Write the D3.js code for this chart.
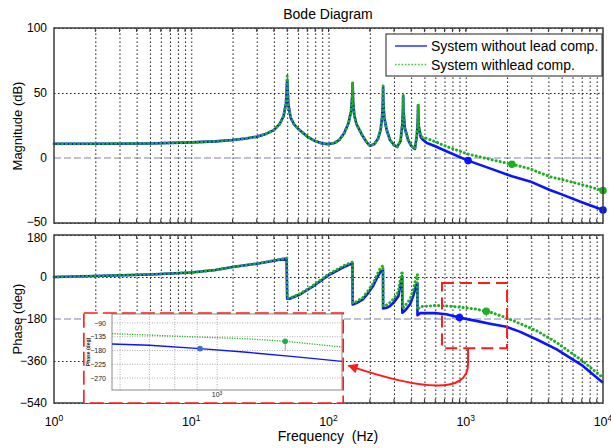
<!DOCTYPE html>
<html>
<head>
<meta charset="utf-8">
<script src="https://cdn.jsdelivr.net/npm/d3@7"></script>
<style>
  body { margin: 0; background: #fff; }
  svg { display: block; font-family: "Liberation Sans", Arial, sans-serif; }
</style>
</head>
<body>
<div id="chart"></div>
<script>
// Magnitude (dB)
const magFreq  = [1, 2, 5, 10, 15, 20, 25, 30, 35, 40, 44, 47, 49, 50, 51, 53, 56, 60, 70, 80, 90, 100, 110, 120, 130, 140, 146, 149, 150, 151, 154, 160, 175, 190, 200, 215, 230, 240, 246, 249, 250, 251, 255, 265, 280, 300, 316, 335, 345, 349, 350, 352, 360, 380, 400, 426, 440, 447, 450, 454, 470, 490, 522, 600, 730, 1040, 1500, 2170, 2940, 4100, 5000, 7000, 10000];
const magBlue  = [11, 11, 11.2, 12, 12.8, 13.8, 15, 16.4, 18.5, 21.5, 26, 32, 42, 60, 41, 31, 26, 22.5, 16.5, 13, 11.2, 10.7, 11.5, 14, 19, 27, 36, 48, 57.5, 44, 33, 26, 18, 12, 9.5, 10.5, 15, 22, 32, 44, 54.5, 42, 31, 22, 14, 10, 8.5, 13, 26, 38, 47.5, 36, 23, 14, 9.5, 7, 17, 28, 40.5, 25, 16, 13.8, 11.5, 9, 5, -2, -8, -14, -18, -24.6, -28, -34, -40];
const magGreen = [11, 11, 11.2, 12, 12.8, 13.8, 15, 16.4, 18.5, 21.5, 26, 32, 42, 63, 41, 31, 26, 22.5, 16.5, 13, 11.2, 10.7, 11.5, 14, 19, 27, 36, 48, 58.5, 44, 33, 26, 18, 12, 9.5, 10.5, 15, 22, 32, 44, 55.5, 42, 31, 22, 14, 10, 8.5, 13, 26, 38, 48.5, 36, 23, 14, 9.5, 7, 17, 28, 41.5, 25, 17, 15.5, 15, 12.5, 8.7, 3, -1, -4.8, -8.3, -14.4, -16.5, -20.5, -25];

// Phase (deg)
const phFreq   = [1, 2, 5, 10, 15, 20, 30, 40, 49.5, 50, 52, 62, 75, 87, 100, 108, 125, 143, 149.5, 150, 160, 178, 195, 211, 225, 238, 249.5, 250, 265, 280, 300, 323, 335, 344.5, 345, 355, 375, 393, 415, 438, 444.5, 445, 465, 610, 720, 900, 1190, 1500, 1980, 2470, 3300, 4600, 7100, 10000];
const phBlue   = [0, 4, 11, 19, 30, 43, 57, 70, 79, -93, -93, -75, -45, -18, 8, 18, 38, 54, 58, -118, -112, -96, -68, -39, -5, 20, 29, -135, -132, -125, -108, -82, -30, 3, -153, -148, -132, -117, -80, -32, -28, -164, -155, -155, -160, -174, -188, -200, -213, -234, -268, -310, -380, -453];
const phGreen  = [0, 4, 11, 19, 30, 43, 57, 71, 81, -90, -91, -72, -42, -14, 12, 23, 44, 60, 64, -112, -106, -88, -58, -28, 8, 36, 49, -125, -120, -110, -92, -62, -5, 25, -135, -128, -110, -95, -55, 5, 11, -140, -127, -122, -124, -129, -138, -150, -175, -199, -231, -281, -360, -432];

// marked points
const magDotsBlue  = [[1040, -2], [10000, -40]];
const magDotsGreen = [[2170, -4.8], [10000, -25]];
const phDotBlue  = [900, -174];
const phDotGreen = [1410, -147];

// zoomed inset
const insetFreq  = [575, 700, 914, 1170, 1500, 1930];
const insetBlue  = [-158.7, -163, -174, -186, -200, -215.6];
const insetGreenFreq = [575, 898, 1170, 1431, 1930];
const insetGreen = [-125, -136, -142, -150, -168.5];
const insetTicks = [-90, -135, -180, -225, -270];
const insetGridFreq = [600, 700, 800, 900, 1000];

const magTicks = [100, 50, 0, -50];
const phTicks = [180, 0, -180, -360, -540];
const decades = [1, 10, 100, 1000, 10000];

const legendLabels = ["System without lead comp.", "System withlead comp."];

const BLUE = "#0a14ff", GREEN = "#1fae1f", RED = "#ff1a1a";

const svg = d3.select("#chart").append("svg")
  .attr("width", 611).attr("height", 448);

svg.append("rect").attr("width", 611).attr("height", 448).attr("fill", "#fff");

const x = d3.scaleLog().domain([1, 1e4]).range([54, 603]);
const yMag = d3.scaleLinear().domain([-50, 100]).range([223, 28]);
const yPh = d3.scaleLinear().domain([-540, 180]).range([403, 235]);

const minor = x.ticks().filter(d => d > 1 && d < 1e4);

function panel(y, ticks, dashedAt, nudge) {
  const g = svg.append("g");
  const [y0, y1] = y.range();
  const [x0, x1] = x.range();

  // vertical grid
  g.append("g")
    .attr("transform", `translate(0,${y0})`)
    .call(d3.axisBottom(x).tickValues(minor).tickSize(-(y0 - y1)).tickFormat(""))
    .call(a => a.select(".domain").remove())
    .selectAll("line")
    .attr("stroke", "#222").attr("stroke-width", 1).attr("stroke-dasharray", "1.6,2.4");

  // horizontal grid
  g.append("g")
    .attr("transform", `translate(${x0},0)`)
    .call(d3.axisLeft(y).tickValues(ticks.filter(t => t !== dashedAt)).tickSize(-(x1 - x0)).tickFormat(""))
    .call(a => a.select(".domain").remove())
    .selectAll("line")
    .attr("stroke", "#222").attr("stroke-width", 1).attr("stroke-dasharray", "1.6,2.4");

  // reference line (0 dB / -180 deg)
  g.append("line")
    .attr("x1", x0).attr("x2", x1)
    .attr("y1", y(dashedAt)).attr("y2", y(dashedAt))
    .attr("stroke", "#7d83ad").attr("stroke-width", 1.2).attr("stroke-dasharray", "7,3");

  // small inside ticks top and bottom
  [y0, y1].forEach((yy, i) => {
    g.append("g").selectAll("line").data(minor).join("line")
      .attr("x1", d => x(d)).attr("x2", d => x(d))
      .attr("y1", yy).attr("y2", i === 0 ? yy - 4 : yy + 4)
      .attr("stroke", "#333");
  });

  // y tick labels
  g.append("g")
    .attr("transform", `translate(${x0 - 4},0)`)
    .call(d3.axisLeft(y).tickValues(ticks).tickSize(0))
    .call(a => a.select(".domain").remove())
    .selectAll("text")
    .attr("font-size", "12px").attr("fill", "#000")
    .attr("font-family", "Liberation Sans, Arial, sans-serif")
    .attr("dy", (d, i) => (nudge[d] !== undefined ? nudge[d] : 0.32) + "em");

  return g;
}

const gMag = panel(yMag, magTicks, 0, { "-50": 0.18 });
const gPh = panel(yPh, phTicks, -180, { "180": 0.5 });

// curves
function drawSeries(g, y, freq, vals, color, dotted, width) {
  const line = d3.line().x(d => x(d[0])).y(d => y(d[1]));
  g.append("path")
    .datum(d3.zip(freq, vals))
    .attr("d", line)
    .attr("fill", "none")
    .attr("stroke", color)
    .attr("stroke-width", width)
    .attr("stroke-linejoin", "round")
    .attr("stroke-linecap", dotted ? "round" : "butt")
    .attr("stroke-dasharray", dotted ? "0.1,4" : null);
}

drawSeries(gMag, yMag, magFreq, magBlue, BLUE, false, 2.6);
drawSeries(gMag, yMag, magFreq, magGreen, GREEN, true, 3);
drawSeries(gPh, yPh, phFreq, phBlue, BLUE, false, 2.6);
drawSeries(gPh, yPh, phFreq, phGreen, GREEN, true, 3);

// markers
gMag.selectAll("circle.b").data(magDotsBlue).join("circle")
  .attr("cx", d => x(d[0])).attr("cy", d => yMag(d[1])).attr("r", 3.8).attr("fill", BLUE);
gMag.selectAll("circle.g").data(magDotsGreen).join("circle")
  .attr("cx", d => x(d[0])).attr("cy", d => yMag(d[1])).attr("r", 3.8).attr("fill", GREEN);

gPh.append("line")
  .attr("x1", x(phDotGreen[0])).attr("x2", x(phDotGreen[0]))
  .attr("y1", yPh(phDotGreen[1])).attr("y2", yPh(-170))
  .attr("stroke", "#8a8a8a").attr("stroke-width", 1);
gPh.append("circle").attr("cx", x(phDotBlue[0])).attr("cy", yPh(phDotBlue[1])).attr("r", 3.8).attr("fill", BLUE);
gPh.append("circle").attr("cx", x(phDotGreen[0])).attr("cy", yPh(phDotGreen[1])).attr("r", 3.8).attr("fill", GREEN);

// frames
[yMag, yPh].forEach(y => {
  const [y0, y1] = y.range();
  svg.append("rect")
    .attr("x", x.range()[0]).attr("y", y1)
    .attr("width", x.range()[1] - x.range()[0]).attr("height", y0 - y1)
    .attr("fill", "none").attr("stroke", "#3c3c3c").attr("stroke-width", 1.5);
});

// x tick labels 10^n
const xl = svg.append("g");
decades.forEach(d => {
  const t = xl.append("text")
    .attr("x", x(d)).attr("y", 426)
    .attr("text-anchor", "middle")
    .attr("font-size", "12.5px").attr("fill", "#000");
  t.append("tspan").text("10");
  t.append("tspan").attr("dy", "-0.55em").attr("font-size", "8.5px").text(Math.round(Math.log10(d)));
});

// titles
svg.append("text").attr("x", 328).attr("y", 19).attr("text-anchor", "middle")
  .attr("font-size", "14px").attr("fill", "#000").text("Bode Diagram");
svg.append("text").attr("x", 328).attr("y", 441).attr("text-anchor", "middle")
  .attr("font-size", "14px").attr("fill", "#000").style("white-space", "pre").text("Frequency  (Hz)");
svg.append("text").attr("transform", "translate(22,126) rotate(-90)").attr("text-anchor", "middle")
  .attr("font-size", "13px").attr("fill", "#000").text("Magnitude (dB)");
svg.append("text").attr("transform", "translate(22,319) rotate(-90)").attr("text-anchor", "middle")
  .attr("font-size", "13px").attr("fill", "#000").text("Phase (deg)");

// legend
const lg = svg.append("g");
lg.append("rect").attr("x", 386).attr("y", 34).attr("width", 216).attr("height", 42)
  .attr("fill", "#fff").attr("stroke", "#222").attr("stroke-width", 1);
lg.append("line").attr("x1", 395).attr("x2", 427).attr("y1", 46).attr("y2", 46)
  .attr("stroke", BLUE).attr("stroke-width", 1.3);
lg.append("line").attr("x1", 395).attr("x2", 427).attr("y1", 64.5).attr("y2", 64.5)
  .attr("stroke", "#33cc33").attr("stroke-width", 1.5).attr("stroke-dasharray", "1.5,1.8");
legendLabels.forEach((s, i) => {
  lg.append("text").attr("x", 431).attr("y", 51 + i * 18.5)
    .attr("font-size", "14px").attr("fill", "#000").text(s);
});

// red dashed zoom box on the phase plot
const zoomBox = { f: [671, 2000], p: [-26, -305] };
svg.append("rect")
  .attr("x", x(zoomBox.f[0])).attr("y", yPh(zoomBox.p[0]))
  .attr("width", x(zoomBox.f[1]) - x(zoomBox.f[0]))
  .attr("height", yPh(zoomBox.p[1]) - yPh(zoomBox.p[0]))
  .attr("fill", "none").attr("stroke", RED).attr("stroke-width", 2).attr("stroke-dasharray", "12,6");

// arrow
const defs = svg.append("defs");
defs.append("marker").attr("id", "arr")
  .attr("viewBox", "0 0 10 10").attr("refX", 9).attr("refY", 5)
  .attr("markerWidth", 13).attr("markerHeight", 10).attr("markerUnits", "userSpaceOnUse")
  .attr("orient", "auto")
  .append("path").attr("d", "M0,0 L10,5 L0,10 Z").attr("fill", RED);

const arrowPts = [[1040, -305], [1040, -372], [1040, -500], [500, -490], [140, -380]];
const ap = arrowPts.map(d => [x(d[0]), yPh(d[1])]);
const arrowPath = d3.path();
arrowPath.moveTo(...ap[0]);
arrowPath.lineTo(...ap[1]);
arrowPath.bezierCurveTo(...ap[2], ...ap[3], ...ap[4]);
svg.append("path").attr("d", arrowPath.toString())
  .attr("fill", "none").attr("stroke", RED).attr("stroke-width", 2)
  .attr("marker-end", "url(#arr)");

// inset
const insetBox = { f: [1.65, 128], p: [-154, -540] };
const ix0 = x(insetBox.f[0]), ix1 = x(insetBox.f[1]);
const iy0 = yPh(insetBox.p[0]), iy1 = yPh(insetBox.p[1]);
const ins = svg.append("g");
ins.append("rect").attr("x", ix0).attr("y", iy0).attr("width", ix1 - ix0).attr("height", iy1 - iy0)
  .attr("fill", "#fff");

const xi = d3.scaleLog().domain([575, 1930]).range([112, 342]);
const yi = d3.scaleLinear().domain([-309, -61]).range([390, 314]);

ins.append("g").selectAll("line").data(insetGridFreq).join("line")
  .attr("x1", d => xi(d)).attr("x2", d => xi(d)).attr("y1", yi.range()[0]).attr("y2", yi.range()[1])
  .attr("stroke", "#999").attr("stroke-width", 0.8).attr("stroke-dasharray", "1,1.5");
ins.append("g").selectAll("line").data(insetTicks).join("line")
  .attr("x1", xi.range()[0]).attr("x2", xi.range()[1]).attr("y1", d => yi(d)).attr("y2", d => yi(d))
  .attr("stroke", "#999").attr("stroke-width", 0.8).attr("stroke-dasharray", "1,1.5");
ins.append("rect").attr("x", xi.range()[0]).attr("y", yi.range()[1])
  .attr("width", xi.range()[1] - xi.range()[0]).attr("height", yi.range()[0] - yi.range()[1])
  .attr("fill", "none").attr("stroke", "#8a8a8a").attr("stroke-width", 1);

ins.append("g").attr("transform", `translate(${xi.range()[0] - 3},0)`)
  .call(d3.axisLeft(yi).tickValues(insetTicks).tickSize(0))
  .call(a => a.select(".domain").remove())
  .selectAll("text").attr("font-size", "7px").attr("fill", "#222")
  .attr("font-family", "Liberation Sans, Arial, sans-serif");

const it = ins.append("text").attr("x", xi(1000)).attr("y", 397).attr("text-anchor", "middle")
  .attr("font-size", "7px").attr("fill", "#222");
it.append("tspan").text("10");
it.append("tspan").attr("dy", "-0.5em").attr("font-size", "5px").text("3");

ins.append("text").attr("transform", `translate(90,${(yi.range()[0] + yi.range()[1]) / 2}) rotate(-90)`)
  .attr("text-anchor", "middle").attr("font-size", "5px").attr("font-weight", "bold")
  .attr("fill", "#222").text("Phase (deg)");

const iline = d3.line().x(d => xi(d[0])).y(d => yi(d[1]));
ins.append("path").datum(d3.zip(insetFreq, insetBlue)).attr("d", iline)
  .attr("fill", "none").attr("stroke", BLUE).attr("stroke-width", 1.4);
ins.append("path").datum(d3.zip(insetGreenFreq, insetGreen)).attr("d", iline)
  .attr("fill", "none").attr("stroke", "#22b022").attr("stroke-width", 1.3).attr("stroke-dasharray", "1.2,1.3");
ins.append("line")
  .attr("x1", xi(1431)).attr("x2", xi(1431)).attr("y1", yi(-150)).attr("y2", yi(-180))
  .attr("stroke", "#999").attr("stroke-width", 1);
ins.append("circle").attr("cx", xi(914)).attr("cy", yi(-174)).attr("r", 2.8).attr("fill", "#3a6fd0");
ins.append("circle").attr("cx", xi(1431)).attr("cy", yi(-150)).attr("r", 2.8).attr("fill", "#1fae4f");

ins.append("rect").attr("x", ix0).attr("y", iy0).attr("width", ix1 - ix0).attr("height", iy1 - iy0)
  .attr("fill", "none").attr("stroke", RED).attr("stroke-width", 1.6).attr("stroke-dasharray", "14,5");
</script>
</body>
</html>
